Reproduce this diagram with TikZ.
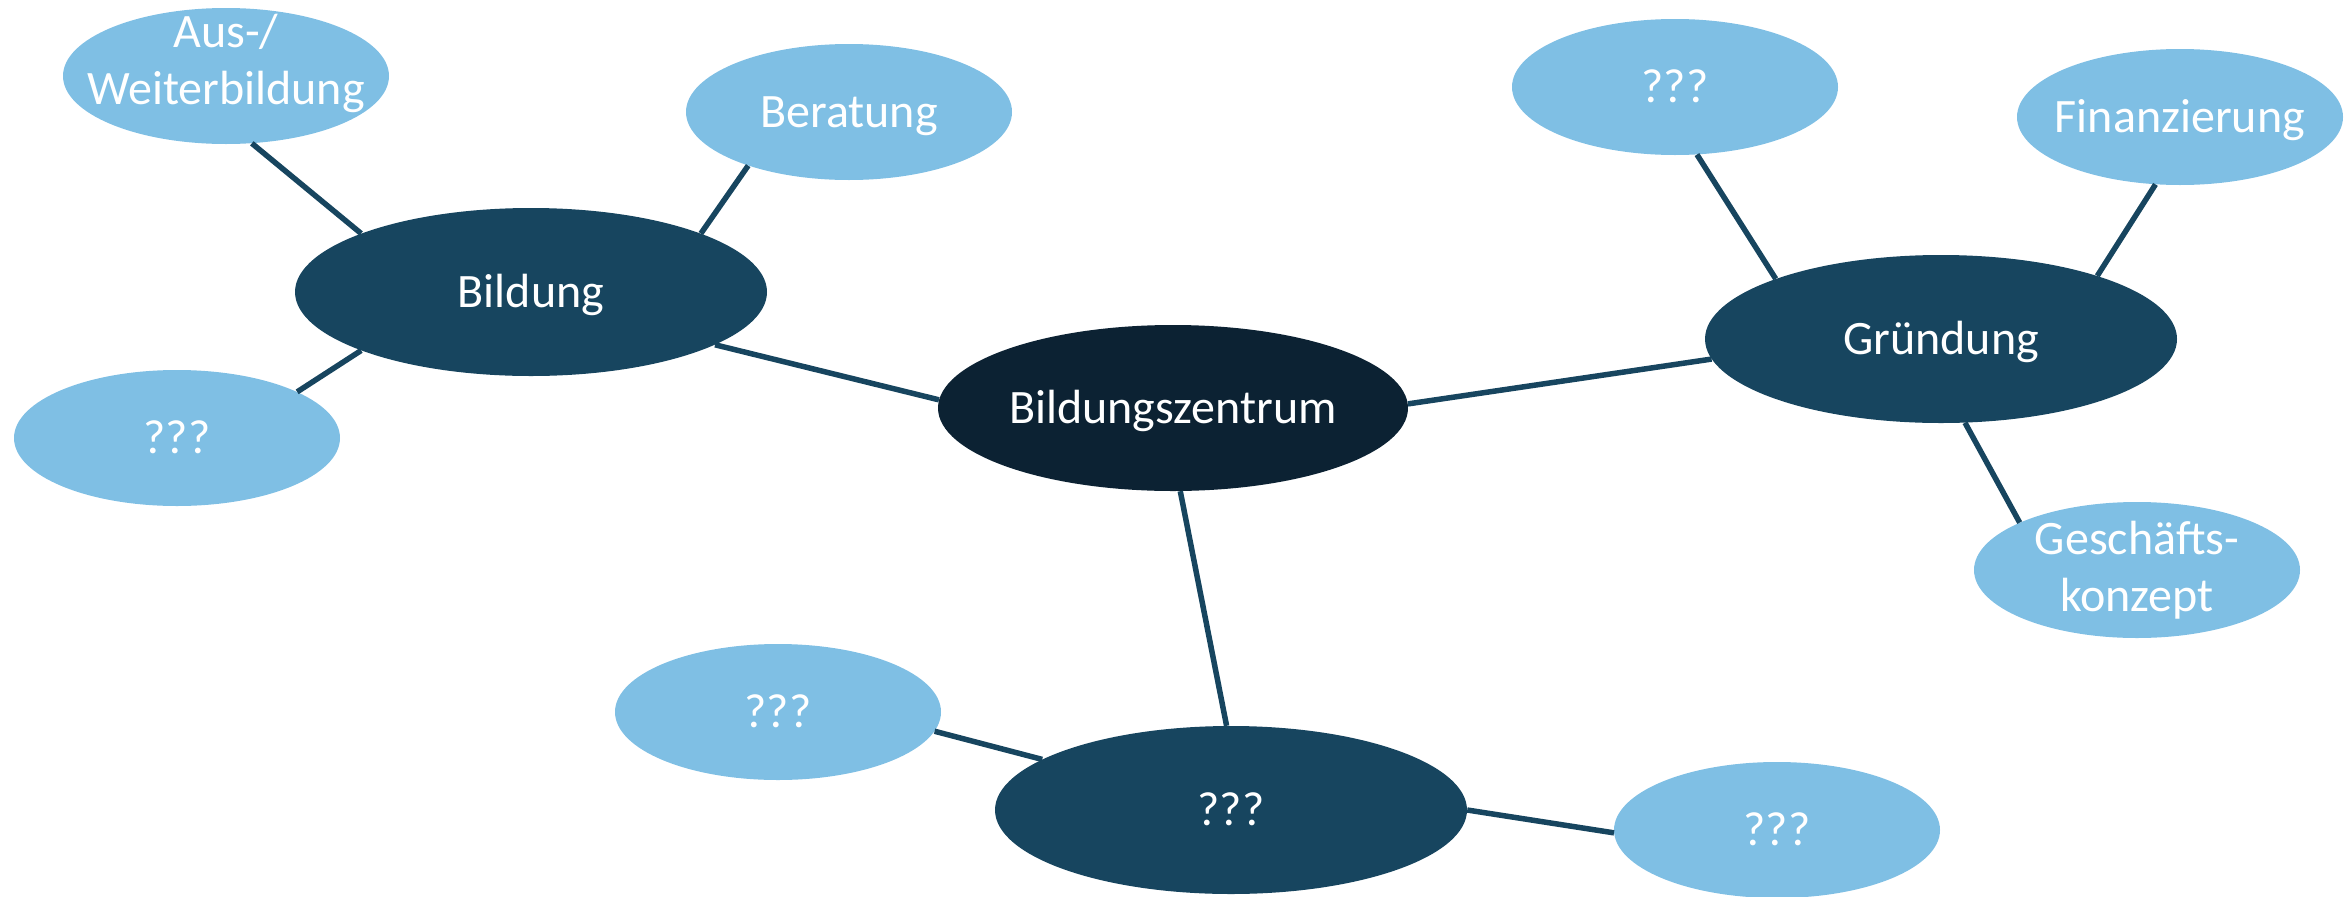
\documentclass[tikz,border=0pt]{standalone}
\usepackage{fontspec}
\setmainfont{Carlito}
\usepackage{tikz}
\usetikzlibrary{shapes.geometric}
\definecolor{kern}{HTML}{0C2233}
\definecolor{haupt}{HTML}{17455F}
\definecolor{neben}{HTML}{7FBFE4}
\tikzset{
x=1pt, y=-1pt, % coordinates are pixels of the sketch
every node/.style={ellipse, inner sep=0pt, align=center, text=white,
  font=\fontsize{48}{57}\selectfont}, % all bubbles
zeile/.style={text height=34pt, text depth=4pt}, % one line of text
mitte/.style={zeile, fill=kern, minimum width=470pt, minimum height=166pt}, % the centre
thema/.style={zeile, fill=haupt, minimum width=472pt, minimum height=168pt}, % main topics
detail/.style={fill=neben, minimum width=326pt, minimum height=136pt,
  inner xsep=-30pt, inner ysep=-20pt}, % sub topics, text may run wide
verbindung/.style={draw=haupt, line width=5.5pt}, % the lines
}
\begin{document}
\begin{tikzpicture}
\useasboundingbox (0,0) rectangle (2351,897);
\node[mitte] (zen) at (1173,408) {Bildungszentrum};
\node[thema] (bil) at (531,292) {Bildung};
\node[thema] (gru) at (1941,339) {Gründung};
\node[thema] (fra) at (1231,810) {???};
\node[detail, text depth=34pt] (aus) at (226,76) {Aus-/\\Weiterbildung};
\node[detail, zeile] (ber) at (849,112) {Beratung};
\node[detail, zeile] (bfr) at (177,438) {???};
\node[detail, zeile] (gfr) at (1675,87) {???};
\node[detail, zeile] (fin) at (2180,117) {Finanzierung};
\node[detail] (ges) at (2137,570) {Geschäfts-\\konzept};
\node[detail, zeile] (lfr) at (778,712) {???};
\node[detail, zeile] (rfr) at (1777,830) {???};
\draw[verbindung]
(bil.161) -- (aus.291)
(bil.19) -- (ber.208)
(bil.199) -- (bfr.21)
(bil.344) -- (zen.178)
(zen.1.5) -- (gru.185)
(gru.160) -- (gfr.288)
(gru.22) -- (fin.250)
(gru.286) -- (ges.158)
(zen.275) -- (fra.93)
(lfr.353) -- (fra.165)
(fra.0) -- (rfr.181)
;
\end{tikzpicture}
\end{document}
